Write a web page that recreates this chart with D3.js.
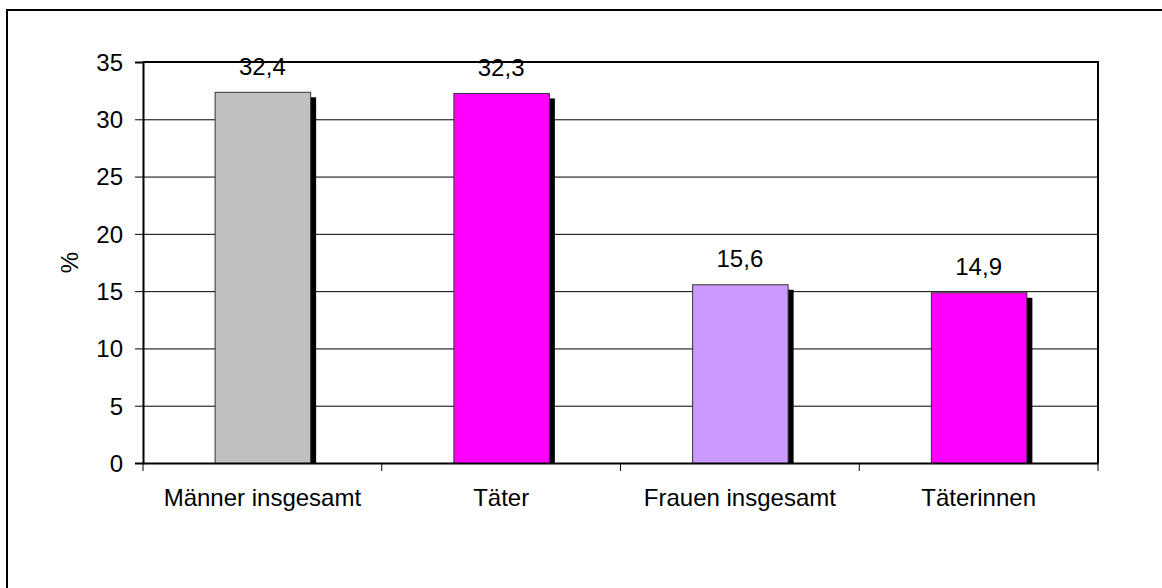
<!DOCTYPE html>
<html>
<head>
<meta charset="utf-8">
<script src="https://cdn.jsdelivr.net/npm/d3@7"></script>
<style>
html, body { margin: 0; padding: 0; background: #fff; }
svg { display: block; }
text { font-family: Arial, "Liberation Sans", sans-serif; fill: #000; }
</style>
</head>
<body>
<svg id="chart" width="1162" height="588"></svg>
<script>
const categories = ["Männer insgesamt", "Täter", "Frauen insgesamt", "Täterinnen"];
const values = [32.4, 32.3, 15.6, 14.9];
const valueLabels = ["32,4", "32,3", "15,6", "14,9"];
const barColors = ["#C0C0C0", "#FF00FF", "#CC99FF", "#FF00FF"];
const yTicks = [0, 5, 10, 15, 20, 25, 30, 35];
const yTitle = "%";

const svg = d3.select("#chart");
const W = 1162, H = 588;
const plot = { left: 143, right: 1098, top: 62, bottom: 463 };

svg.append("rect").attr("width", W).attr("height", H).attr("fill", "#fff");
// outer chart border
svg.append("rect").attr("x", 7).attr("y", 10).attr("width", 1300).attr("height", 800)
  .attr("fill", "none").attr("stroke", "#000").attr("stroke-width", 2);

const x = d3.scaleBand().domain(categories).range([plot.left, plot.right]).paddingInner(0.6).paddingOuter(0.3);
const xb = d3.scaleBand().domain(categories).range([plot.left, plot.right]).padding(0);
const y = d3.scaleLinear().domain([0, 35]).range([plot.bottom, plot.top]);

// gridlines
svg.append("g").selectAll("line").data(yTicks.filter(t => t > 0 && t < 35)).join("line")
  .attr("x1", plot.left).attr("x2", plot.right)
  .attr("y1", d => y(d) + 0.5).attr("y2", d => y(d) + 0.5)
  .attr("stroke", "#000").attr("stroke-width", 1);

// bars with shadow
const off = 6;
const bars = svg.append("g");
categories.forEach((c, i) => {
  const bx = x(c), bw = x.bandwidth(), by = y(values[i]), bh = y(0) - y(values[i]);
  bars.append("rect").attr("x", bx + off).attr("y", by + off - 0.5)
    .attr("width", bw).attr("height", bh - off + 0.5).attr("fill", "#000");
  bars.append("rect").attr("x", bx + 0.5).attr("y", by + 0.5)
    .attr("width", bw).attr("height", bh).attr("fill", barColors[i])
    .attr("stroke", "#333").attr("stroke-width", 1);
});

// plot frame: top & right
svg.append("line").attr("x1", plot.left).attr("x2", plot.right + 1).attr("y1", plot.top).attr("y2", plot.top)
  .attr("stroke", "#000").attr("stroke-width", 2);
svg.append("line").attr("x1", plot.right).attr("x2", plot.right).attr("y1", plot.top).attr("y2", plot.bottom)
  .attr("stroke", "#000").attr("stroke-width", 2);

// y axis
const yAxis = d3.axisLeft(y).tickValues(yTicks).tickSize(8).tickPadding(12).tickFormat(d3.format("d"));
const gy = svg.append("g").attr("transform", `translate(${plot.left},0)`).call(yAxis);
gy.select(".domain").attr("stroke", "#000").attr("stroke-width", 2);
gy.selectAll(".tick line").attr("stroke", "#000").attr("stroke-width", 1);
gy.selectAll(".tick text").attr("font-size", 24).attr("font-family", "Arial, 'Liberation Sans', sans-serif")
  .attr("fill", "#000").attr("dy", "0.35em");

// x axis
const xAxis = d3.axisBottom(xb).tickSize(0).tickPadding(26);
const gx = svg.append("g").attr("transform", `translate(0,${plot.bottom})`).call(xAxis);
gx.select(".domain").attr("stroke", "#000").attr("stroke-width", 2);
gx.selectAll(".tick text").attr("font-size", 24).attr("font-family", "Arial, 'Liberation Sans', sans-serif")
  .attr("fill", "#000");
// category separator ticks
const bounds = categories.map(c => xb(c)).concat([plot.right]);
gx.append("g").selectAll("line").data(bounds).join("line")
  .attr("x1", d => d).attr("x2", d => d).attr("y1", 0).attr("y2", 8)
  .attr("stroke", "#000").attr("stroke-width", 1);

// value labels
svg.append("g").selectAll("text").data(categories).join("text")
  .attr("x", c => x(c) + x.bandwidth() / 2)
  .attr("y", (c, i) => y(values[i]) - 17)
  .attr("text-anchor", "middle").attr("font-size", 24)
  .text((c, i) => valueLabels[i]);

// y title
svg.append("text").attr("transform", `translate(78,${(plot.top + plot.bottom) / 2}) rotate(-90)`)
  .attr("text-anchor", "middle").attr("font-size", 24).text(yTitle);
</script>
</body>
</html>
